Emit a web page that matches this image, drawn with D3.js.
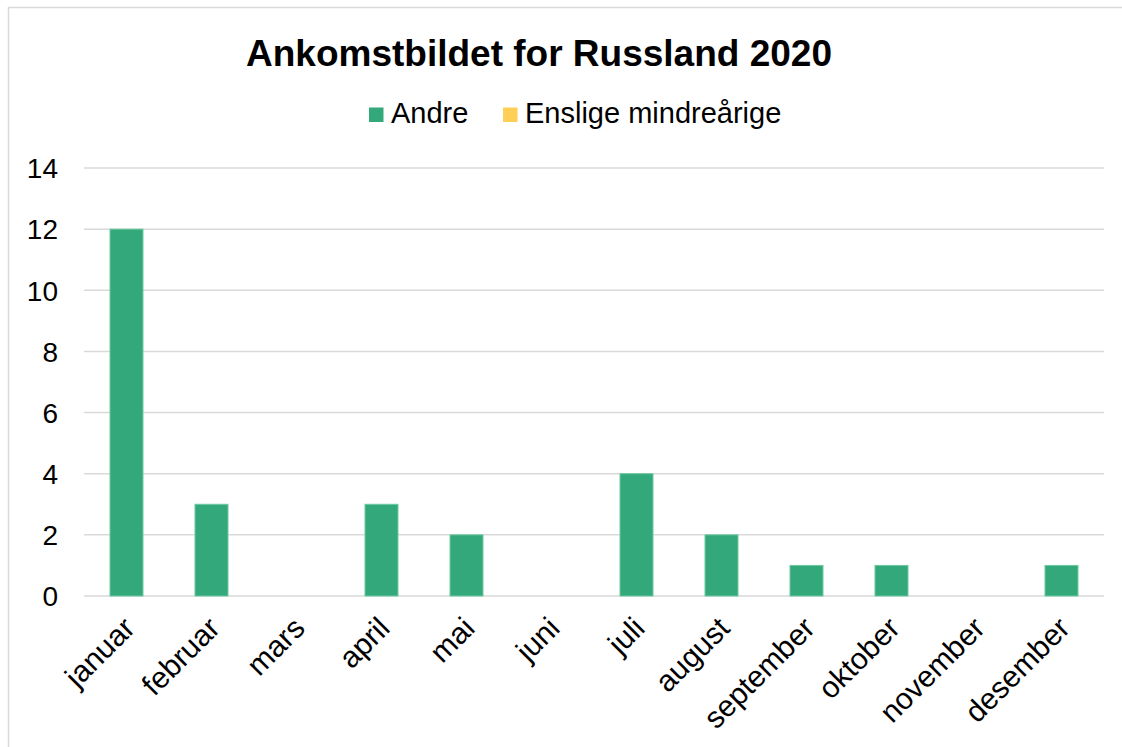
<!DOCTYPE html>
<html>
<head>
<meta charset="utf-8">
<script src="https://cdn.jsdelivr.net/npm/d3@7"></script>
<style>
  html, body { margin: 0; padding: 0; background: #fff; }
  svg { display: block; font-family: "Liberation Sans", Arial, sans-serif; }
</style>
</head>
<body>
<svg id="chart" width="1122" height="747"></svg>
<script>
const title = "Ankomstbildet for Russland 2020";
const months = ["januar","februar","mars","april","mai","juni","juli","august","september","oktober","november","desember"];
const seriesNames = ["Andre", "Enslige mindreårige"];
const andre = [12, 3, 0, 3, 2, 0, 4, 2, 1, 1, 0, 1];
const enslige = [0, 0, 0, 0, 0, 0, 0, 0, 0, 0, 0, 0];
const yTicks = [0, 2, 4, 6, 8, 10, 12, 14];
const colors = ["#33a87a", "#ffd055"];

const svg = d3.select("#chart");

// chart area border
svg.append("rect").attr("x", 8.5).attr("y", 7.5).attr("width", 1200).attr("height", 800)
  .attr("fill", "#fff").attr("stroke", "#d9d9d9").attr("stroke-width", 1.5);

const plot = { left: 84, right: 1104, top: 168, bottom: 596 };

const x = d3.scaleBand().domain(months).range([plot.left, plot.right])
  .paddingInner(0.6).paddingOuter(0.3);
const y = d3.scaleLinear().domain([0, 14]).range([plot.bottom, plot.top]);

// gridlines
svg.append("g").selectAll("line").data(yTicks).join("line")
  .attr("x1", plot.left).attr("x2", plot.right)
  .attr("y1", d => y(d)).attr("y2", d => y(d))
  .attr("stroke", "#d9d9d9").attr("stroke-width", 1.5);

// y axis labels
const yAxis = d3.axisLeft(y).tickValues(yTicks).tickSize(0).tickPadding(0).tickFormat(d3.format("d"));
const yg = svg.append("g").attr("transform", `translate(58,0)`).call(yAxis);
yg.select(".domain").remove();
yg.selectAll("text").attr("font-size", 28).attr("fill", "#000")
  .attr("font-family", "Liberation Sans, Arial, sans-serif").attr("dy", "0.35em");

// stacked bars
const data = months.map((m, i) => ({ month: m, "Andre": andre[i], "Enslige mindreårige": enslige[i] }));
const stack = d3.stack().keys(seriesNames)(data);
svg.append("g").selectAll("g").data(stack).join("g")
  .attr("fill", (d, i) => colors[i])
  .attr("stroke", (d, i) => i === 0 ? "#6cc9a1" : "#ffe08a")
  .attr("stroke-width", 1)
  .selectAll("rect").data(d => d.filter(p => p[1] - p[0] > 0)).join("rect")
  .attr("x", d => x(d.data.month) + 0.5)
  .attr("width", x.bandwidth() - 1)
  .attr("y", d => y(d[1]))
  .attr("height", d => y(d[0]) - y(d[1]));

// x axis labels
const xg = svg.append("g");
xg.selectAll("text").data(months).join("text")
  .attr("transform", d => `translate(${x(d) + x.bandwidth() / 2 + 10},630) rotate(-45)`)
  .attr("text-anchor", "end")
  .attr("font-size", 30)
  .attr("fill", "#000")
  .text(d => d);

// title
svg.append("text").attr("x", 539).attr("y", 66).attr("text-anchor", "middle")
  .attr("font-size", 37).attr("font-weight", "bold").attr("fill", "#000").text(title);

// legend
const legendX = [369, 503];
const lg = svg.append("g");
seriesNames.forEach((name, i) => {
  lg.append("rect").attr("x", legendX[i]).attr("y", 107.5).attr("width", 14.5).attr("height", 14.5)
    .attr("fill", colors[i]);
  lg.append("text").attr("x", legendX[i] + 22).attr("y", 123).attr("font-size", 29)
    .attr("fill", "#000").text(name);
});
</script>
</body>
</html>
